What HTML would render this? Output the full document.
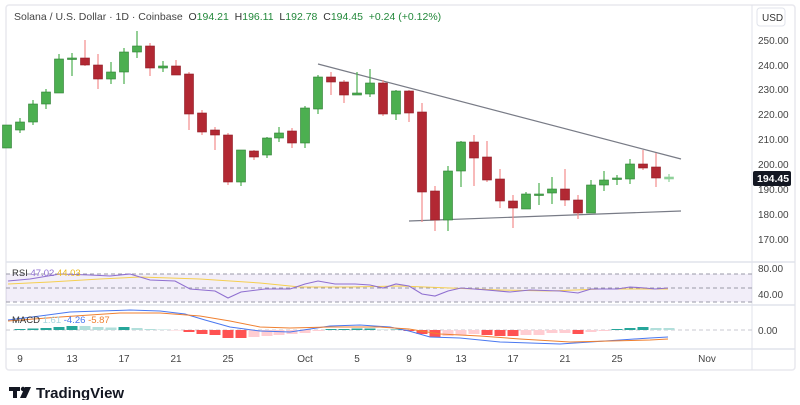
<!DOCTYPE html><html><head><meta charset="utf-8"><style>
body{margin:0;background:#fff;width:800px;height:400px;overflow:hidden;font-family:"Liberation Sans",sans-serif}
</style></head><body>
<svg width="800" height="400" xmlns="http://www.w3.org/2000/svg" font-family="Liberation Sans, sans-serif">
<rect x="6" y="5" width="789" height="365" fill="none" stroke="#e8e8ee" stroke-width="1.5" rx="3"/>
<line x1="752" y1="5" x2="752" y2="370" stroke="#e0e3eb"/>
<line x1="6" y1="262" x2="795" y2="262" stroke="#e0e3eb" stroke-width="1.5"/>
<line x1="6" y1="305" x2="795" y2="305" stroke="#e0e3eb" stroke-width="1.5"/>
<line x1="6" y1="349" x2="795" y2="349" stroke="#e0e3eb" stroke-width="1.5"/>
<text x="14" y="20" font-size="10.5" fill="#444" xml:space="preserve">Solana / U.S. Dollar · 1D · Coinbase  <tspan fill="#333">O</tspan><tspan fill="#22883a">194.21</tspan>  <tspan fill="#333">H</tspan><tspan fill="#22883a">196.11</tspan>  <tspan fill="#333">L</tspan><tspan fill="#22883a">192.78</tspan>  <tspan fill="#333">C</tspan><tspan fill="#22883a">194.45  +0.24 (+0.12%)</tspan></text>
<rect x="757" y="8" width="28" height="18" rx="3" fill="#fff" stroke="#e0e3eb"/>
<text x="762" y="21" font-size="10" fill="#333">USD</text>
<g font-size="10" fill="#444">
<text x="758" y="44">250.00</text><text x="758" y="69">240.00</text><text x="758" y="93">230.00</text><text x="758" y="118">220.00</text><text x="758" y="143">210.00</text><text x="758" y="168">200.00</text><text x="758" y="193">190.00</text><text x="758" y="218">180.00</text><text x="758" y="243">170.00</text>
<text x="758" y="272">80.00</text><text x="758" y="298">40.00</text><text x="758" y="334">0.00</text>
</g>
<rect x="753" y="171" width="38" height="15" fill="#131722" rx="2"/>
<text x="757" y="182" font-size="10.5" font-weight="bold" fill="#fff">194.45</text>
<line x1="318" y1="64" x2="681" y2="159" stroke="#787b86" stroke-width="1.2"/>
<line x1="409" y1="221" x2="681" y2="211" stroke="#787b86" stroke-width="1.2"/>
<g id="c"></g>
<rect x="6" y="274" width="746" height="28" fill="#7e57c2" opacity="0.1"/>
<g stroke="#9a9aa8" stroke-dasharray="4,3" stroke-width="1"><line x1="6" y1="274" x2="752" y2="274"/><line x1="6" y1="288" x2="752" y2="288"/><line x1="6" y1="302" x2="752" y2="302"/><line x1="6" y1="330" x2="752" y2="330" stroke="#c8c8d0"/></g>
<polyline fill="none" stroke="#f5cf50" stroke-width="1" points="8,284 50,282 100,279 140,277 200,279 260,283 300,287 350,287 400,286 450,288 500,290 550,291 600,289 640,289 668,289"/>
<polyline fill="none" stroke="#8f6fd0" stroke-width="1.1" points="8,281 30,279 60,274 90,275 110,276 130,274 150,280 175,281 190,289 215,291 228,298 241,292 265,289 290,289 305,284 318,281 335,284 355,284 370,285 383,288 396,284 409,286 422,294 435,296 448,291 461,288 487,290 510,292 530,290 560,291 578,293 591,289 617,289 630,287 645,288 655,289 668,288"/>
<text x="12" y="276" font-size="9.5" fill="#333">RSI <tspan fill="#8f6fd0">47.02</tspan> <tspan fill="#e8b923">44.03</tspan></text>
<g id="h"></g>
<polyline fill="none" stroke="#4a78f0" stroke-width="1" points="8,320 40,316 70,312 100,311 130,310 160,311 185,314 205,320 230,327 260,331 290,332 310,329 330,326 360,325 390,327 409,331 430,337 460,338 500,342 530,343 560,344 590,342 620,340 650,338 668,337"/>
<polyline fill="none" stroke="#f08030" stroke-width="1" points="8,321 60,317 120,313 160,313 200,316 230,321 260,327 290,328 330,327 380,327 409,329 440,334 480,336 520,339 570,342 610,341 650,340 668,339"/>
<text x="12" y="323" font-size="9.5" fill="#333">MACD <tspan fill="#a9d7e0">1.61</tspan> <tspan fill="#4a78f0">-4.26</tspan> <tspan fill="#f08030">-5.87</tspan></text>
<g font-size="10" fill="#444" text-anchor="middle">
<text x="20" y="362">9</text><text x="72" y="362">13</text><text x="124" y="362">17</text><text x="176" y="362">21</text><text x="228" y="362">25</text><text x="305" y="362">Oct</text><text x="357" y="362">5</text><text x="409" y="362">9</text><text x="461" y="362">13</text><text x="513" y="362">17</text><text x="565" y="362">21</text><text x="617" y="362">25</text><text x="707" y="362">Nov</text>
</g>
<g fill="#131722"><rect x="9" y="387" width="11" height="4"/><rect x="13" y="387" width="4" height="11"/><circle cx="23" cy="389" r="2.2"/><polygon points="25,387 31,387 26,398 20,398"/></g>
<text x="36" y="398" font-size="15" font-weight="bold" fill="#131722">TradingView</text>
</svg>
<script>
var C=[[7,125,148,125,148,1],[20,122,130,118,133,1],[33,104,122,100,125,1],[46,92,104,89,109,1],[59,59,93,54,93,1],[72,58,59,53,76,1],[85,58,65,40,66,0],[98,65,79,54,89,0],[111,72,79,62,84,1],[124,52,72,48,84,1],[137,46,52,31,58,1],[150,46,68,43,76,0],[163,66,68,61,72,1],[176,66,75,60,75,0],[189,74,114,72,130,0],[202,113,132,110,135,0],[215,130,135,127,150,0],[228,135,182,133,185,0],[241,150,182,150,186,1],[254,151,157,150,160,0],[267,138,155,137,158,1],[279,133,138,127,142,1],[292,131,143,128,148,0],[305,108,143,106,148,1],[318,77,109,75,114,1],[331,77,82,72,95,0],[344,82,95,80,103,0],[357,93,95,72,95,1],[370,83,94,69,97,1],[383,83,114,80,116,0],[396,91,114,90,120,1],[409,91,113,90,122,0],[422,112,192,103,222,0],[435,191,220,186,231,0],[448,171,220,166,231,1],[461,142,171,141,187,1],[474,142,158,135,186,0],[487,157,180,141,182,0],[500,179,201,169,208,0],[513,201,208,195,228,0],[526,194,209,192,209,1],[539,194,195,183,205,1],[552,189,193,177,204,1],[565,189,200,169,206,0],[578,200,213,195,219,0],[591,185,213,180,213,1],[604,180,185,171,191,1],[617,178,179,175,185,1],[630,164,179,159,184,1],[643,164,168,150,170,0],[656,167,178,153,187,0],[669,177,179,174,182,2]];
var s='';C.forEach(function(c){var col=c[5]==1?'#4caf50':c[5]==0?'#b22833':'#8fd19a';var w=c[5]==1?'#4caf50':c[5]==0?'#f28b8b':'#8fd19a';
s+='<line x1="'+c[0]+'" y1="'+c[3]+'" x2="'+c[0]+'" y2="'+c[4]+'" stroke="'+w+'" stroke-width="1.2"/>';
var h=Math.max(1.5,c[2]-c[1]);s+='<rect x="'+(c[0]-4.5)+'" y="'+c[1]+'" width="9" height="'+h+'" fill="'+col+'" stroke="'+(c[5]==1?'#2e7d32':c[5]==0?'#8e1c26':'#8fd19a')+'" stroke-width="0.6"/>';});
document.getElementById('c').innerHTML=s;
var H=[[20,1,'#26a69a'],[33,1.5,'#26a69a'],[46,2,'#26a69a'],[59,3,'#26a69a'],[72,4,'#26a69a'],[85,4,'#b2dfdb'],[98,3,'#b2dfdb'],[111,2.5,'#b2dfdb'],[124,3,'#26a69a'],[137,2,'#b2dfdb'],[150,1,'#b2dfdb'],[163,0.5,'#b2dfdb'],[176,-0.5,'#ffcdd2'],[189,-2,'#ff5252'],[202,-4,'#ff5252'],[215,-5,'#ff5252'],[228,-8,'#ff5252'],[241,-8,'#ff5252'],[254,-7,'#ffcdd2'],[267,-6,'#ffcdd2'],[279,-5,'#ffcdd2'],[292,-4,'#ffcdd2'],[305,-3,'#ffcdd2'],[318,-1,'#ffcdd2'],[331,1,'#26a69a'],[344,1,'#26a69a'],[357,1.5,'#26a69a'],[370,1.5,'#26a69a'],[383,0.5,'#b2dfdb'],[396,0.5,'#26a69a'],[409,-1,'#ff5252'],[422,-4,'#ff5252'],[435,-7,'#ff5252'],[448,-6,'#ffcdd2'],[461,-5,'#ffcdd2'],[474,-4,'#ffcdd2'],[487,-5,'#ff5252'],[500,-6,'#ff5252'],[513,-6,'#ff5252'],[526,-5,'#ffcdd2'],[539,-5,'#ffcdd2'],[552,-3,'#ffcdd2'],[565,-3,'#ffcdd2'],[578,-4,'#ff5252'],[591,-2,'#ffcdd2'],[604,-1,'#ffcdd2'],[617,1,'#26a69a'],[630,2,'#26a69a'],[643,3,'#26a69a'],[656,2,'#b2dfdb'],[669,2,'#b2dfdb']];
var t='';H.forEach(function(b){var y=b[1]>0?330-b[1]:330;t+='<rect x="'+(b[0]-5.5)+'" y="'+y+'" width="11" height="'+Math.abs(b[1])+'" fill="'+b[2]+'"/>';});
document.getElementById('h').innerHTML=t;
</script>
</body></html>
